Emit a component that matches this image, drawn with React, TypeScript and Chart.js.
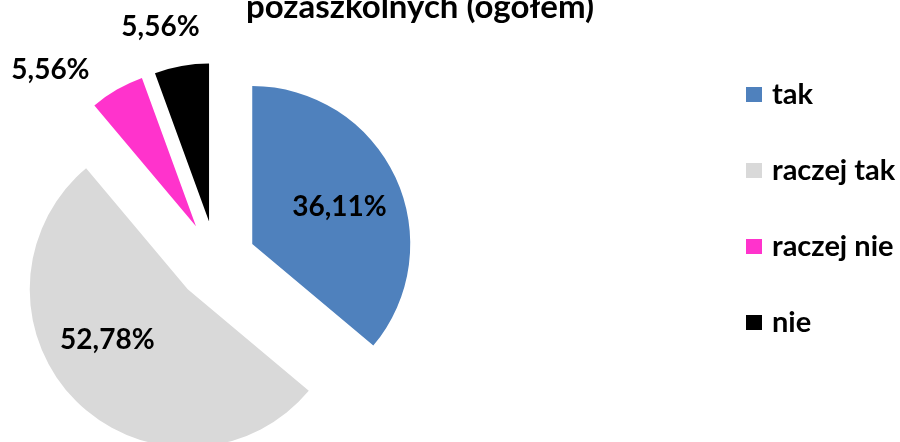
import React, { useEffect, useRef } from "react";
import { Chart, registerables } from "chart.js";

Chart.register(...registerables);

// ---- data ----
const categories = ["tak", "raczej tak", "raczej nie", "nie"];
const values = [36.11, 52.78, 5.56, 5.56];
const colors = ["#4F81BD", "#D9D9D9", "#FF33CC", "#000000"];
const titleText = "pozaszkolnych (ogółem)";

// ---- style ----
const FONT = "Lato, 'Open Sans', sans-serif";
const explodePx = 40;
const pieRadius = 158;
const labelRadial = [0.6, 0.6, 1.35, 1.27];
const labelAngleShiftDeg = [2, 13, -13, -4];

const fmt = (v: number) => v.toFixed(2).replace(".", ",") + "%";

const explodePlugin = {
  id: "explodeSlices",
  afterUpdate(chart: any) {
    const meta = chart.getDatasetMeta(0);
    meta.data.forEach((arc: any) => {
      const mid = (arc.startAngle + arc.endAngle) / 2;
      arc.x += Math.cos(mid) * explodePx;
      arc.y += Math.sin(mid) * explodePx;
    });
  },
};

const labelsPlugin = {
  id: "sliceLabels",
  afterDatasetsDraw(chart: any) {
    const ctx = chart.ctx;
    const meta = chart.getDatasetMeta(0);
    ctx.save();
    ctx.font = `bold 28px ${FONT}`;
    ctx.fillStyle = "#000000";
    ctx.textAlign = "center";
    ctx.textBaseline = "middle";
    meta.data.forEach((arc: any, i: number) => {
      const mid = (arc.startAngle + arc.endAngle) / 2;
      const a = mid + (labelAngleShiftDeg[i] * Math.PI) / 180;
      const d = arc.outerRadius * labelRadial[i];
      const v = chart.data.datasets[0].data[i];
      ctx.fillText(fmt(v), arc.x + Math.cos(a) * d, arc.y + Math.sin(a) * d);
    });
    ctx.restore();
  },
};

const titleLegendPlugin = {
  id: "titleLegend",
  afterDraw(chart: any) {
    const ctx = chart.ctx;
    ctx.save();
    ctx.fillStyle = "#000000";
    ctx.font = `bold 33px ${FONT}`;
    ctx.textAlign = "center";
    ctx.textBaseline = "alphabetic";
    ctx.fillText(titleText, 420, 18);

    const labels = chart.data.labels as string[];
    const bg = chart.data.datasets[0].backgroundColor as string[];
    ctx.font = `bold 29px ${FONT}`;
    ctx.textAlign = "left";
    ctx.textBaseline = "middle";
    labels.forEach((lab, i) => {
      const cy = 94.5 + i * 76;
      ctx.fillStyle = bg[i];
      ctx.fillRect(746, cy - 7.5, 16, 15);
      ctx.fillStyle = "#000000";
      ctx.fillText(lab, 772, cy);
    });
    ctx.restore();
  },
};

export default function App() {
  const ref = useRef<HTMLCanvasElement | null>(null);
  useEffect(() => {
    if (!ref.current) return;
    const chart = new Chart(ref.current, {
      type: "pie",
      data: {
        labels: categories,
        datasets: [
          {
            data: values,
            backgroundColor: colors,
            borderWidth: 0,
            radius: pieRadius,
          } as any,
        ],
      },
      options: {
        animation: false,
        responsive: false,
        events: [],
        layout: { padding: { left: 0, top: 0, bottom: 0, right: 468 } },
        plugins: {
          legend: { display: false },
          title: { display: false },
          tooltip: { enabled: false },
        },
      },
      plugins: [explodePlugin, labelsPlugin, titleLegendPlugin],
    });
    return () => chart.destroy();
  }, []);
  return (
    <div
      style={{
        position: "fixed",
        left: 0,
        top: 0,
        width: 900,
        height: 442,
        overflow: "hidden",
        background: "#ffffff",
      }}
    >
      <canvas ref={ref} width={900} height={522} style={{ display: "block", width: 900, height: 522 }} />
    </div>
  );
}
